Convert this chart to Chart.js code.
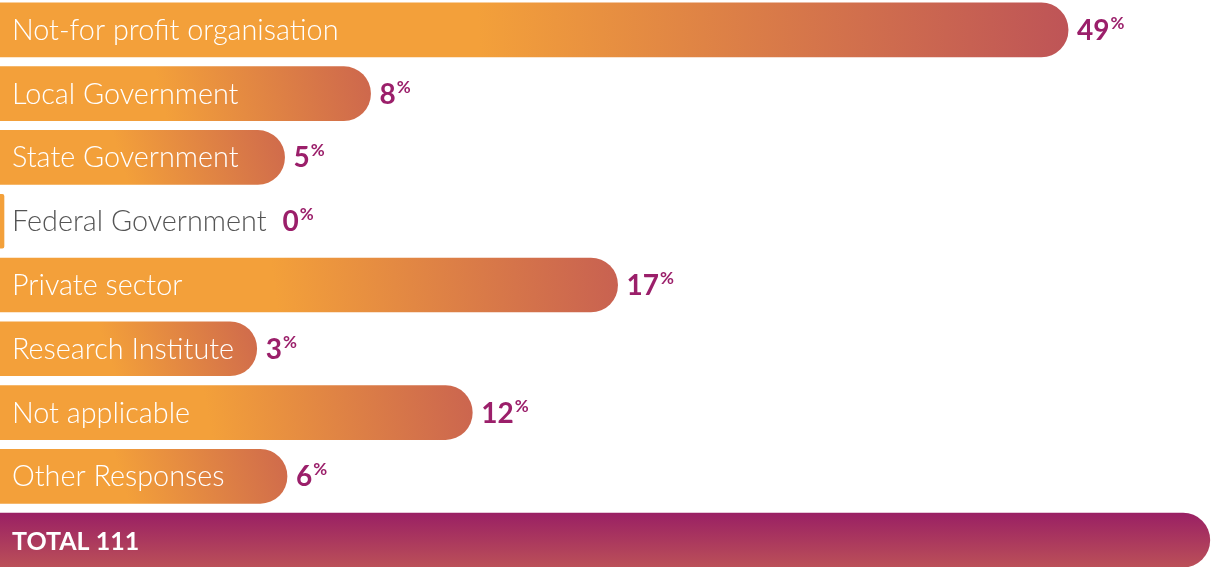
<!DOCTYPE html>
<html>
<head>
<meta charset="utf-8">
<script src="https://cdn.jsdelivr.net/npm/chart.js@4.4.1/dist/chart.umd.min.js"></script>
<style>
  html, body { margin: 0; padding: 0; background: #ffffff; overflow: hidden; width: 1211px; height: 567px; }
  #wrap { position: absolute; left: 0; top: -2px; width: 1211px; height: 574px; }
</style>
</head>
<body>
<div id="wrap"><canvas id="c"></canvas></div>
<script>
// ---- data ----
const categories = [
  "Not-for profit organisation",
  "Local Government",
  "State Government",
  "Federal Government",
  "Private sector",
  "Research Institute",
  "Not applicable",
  "Other Responses"
];
const percents = [49, 8, 5, 0, 17, 3, 12, 6];
// displayed bar lengths (the infographic does not draw them in proportion to the %)
const barLengths = [88.2, 30.6, 23.5, 0.33, 51.0, 21.2, 39.0, 23.7];
const totalLabel = "TOTAL";
const totalCount = 111;
const totalBarLength = 99.9;

// ---- styling ----
const RED_SHORT = [207, 106, 76];
const RED_LONG = [190, 84, 87];
const PURPLE = "#9b1f6a";
const LABEL_FONT = "300 28.8px Lato, 'Open Sans', sans-serif";
const TOTAL_FONT = "bold 25px Lato, 'Open Sans', sans-serif";
const VALUE_FONT = "bold 28px Lato, 'Open Sans', sans-serif";
const PCT_FONT = "bold 17px Lato, 'Open Sans', sans-serif";

const labels = categories.concat([totalLabel + " " + totalCount]);
const values = barLengths.concat([totalBarLength]);
const nCat = categories.length;

function mix(a, b, t) {
  return "rgb(" + a.map((v, i) => Math.round(v + (b[i] - v) * t)).join(",") + ")";
}

function barColor(ctx) {
  const chart = ctx.chart;
  const area = chart.chartArea;
  if (!area || ctx.dataIndex === undefined) return "rgb(243,160,58)";
  const xs = chart.scales.x, ys = chart.scales.y;
  const c = chart.ctx;
  const i = ctx.dataIndex;
  const yc = ys.getPixelForValue(i);
  const half = 27;
  if (i === nCat) {
    const g = c.createLinearGradient(0, yc - half, 0, yc + half);
    g.addColorStop(0, "#9a2064");
    g.addColorStop(1, "#bb5058");
    return g;
  }
  const x0 = xs.getPixelForValue(0);
  const x1 = xs.getPixelForValue(values[i]);
  const w = Math.max(1, x1 - x0);
  if (w < 10) return "rgb(243,160,58)";
  const t = Math.min(1, Math.max(0, (w - 280) / (1068 - 280)));
  const endCol = mix(RED_SHORT, RED_LONG, t);
  const gs = x0 + w * 0.45;
  const g = c.createLinearGradient(gs, yc + half, x1, yc - half * 0.8);
  g.addColorStop(0, "rgb(243,160,58)");
  g.addColorStop(1, endCol);
  return g;
}

const labelPlugin = {
  id: "barLabels",
  afterDatasetsDraw(chart) {
    const c = chart.ctx;
    const meta = chart.getDatasetMeta(0);
    c.save();
    meta.data.forEach((bar, i) => {
      const y = bar.y;
      const left = bar.base;
      const right = bar.x;
      if (i === nCat) {
        c.font = TOTAL_FONT;
        c.fillStyle = "#ffffff";
        c.textBaseline = "alphabetic";
        c.textAlign = "left";
        c.fillText(labels[i], left + 12, y + 9.5);
        return;
      }
      c.font = LABEL_FONT;
      c.textBaseline = "alphabetic";
      c.textAlign = "left";
      const tw = c.measureText(categories[i]).width;
      const inside = (right - left) > tw + 20;
      c.fillStyle = inside ? "#ffffff" : "#555555";
      c.fillText(categories[i], left + 12, y + 10);
      let vx = inside ? right + 9 : left + 12 + tw + 16;
      c.font = VALUE_FONT;
      c.fillStyle = PURPLE;
      const num = String(percents[i]);
      c.fillText(num, vx, y + 10);
      const nw = c.measureText(num).width;
      c.font = PCT_FONT;
      c.fillText("%", vx + nw + 1, y - 1);
    });
    c.restore();
  }
};

new Chart(document.getElementById("c"), {
  type: "bar",
  data: {
    labels: labels,
    datasets: [{
      data: values,
      backgroundColor: barColor,
      borderWidth: 0,
      borderSkipped: "start",
      borderRadius: 27,
      barThickness: 54
    }]
  },
  options: {
    indexAxis: "y",
    responsive: true,
    maintainAspectRatio: false,
    animation: false,
    layout: { padding: 0 },
    plugins: { legend: { display: false }, tooltip: { enabled: false } },
    scales: {
      x: { display: false, min: 0, max: 100 },
      y: { display: false }
    }
  },
  plugins: [labelPlugin]
});
</script>
</body>
</html>
